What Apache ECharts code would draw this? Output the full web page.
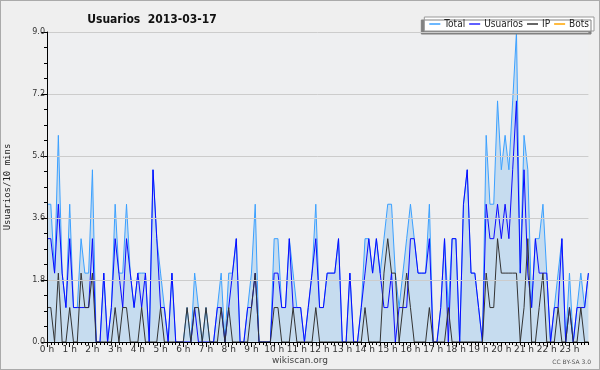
<!DOCTYPE html>
<html>
<head>
<meta charset="utf-8">
<script src="https://cdn.jsdelivr.net/npm/echarts@6/dist/echarts.min.js"></script>
<style>
html,body{margin:0;padding:0;background:#efefef;}
#c{width:598px;height:368px;border:1px solid #aaaaaa;background:#efefef;}
</style>
</head>
<body>
<div id="c"></div>
<script>
// Tick labels (one per hour, each hour = 6 ten-minute slots)
var hourLabels = ["0 h","1 h","2 h","3 h","4 h","5 h","6 h","7 h","8 h","9 h","10 h","11 h",
  "12 h","13 h","14 h","15 h","16 h","17 h","18 h","19 h","20 h","21 h","22 h","23 h"];
var yTicks = [0, 1.8, 3.6, 5.4, 7.2, 9.0];

// Series values, one per 10 minutes (144 points)
var total = [
 4,4,2,6,2,1,4,1,1,3,2,2,5,0,0,2,0,1,4,2,2,4,2,1,2,2,2,0,5,3,2,1,0,2,0,0,
 0,1,0,2,1,0,1,0,0,1,2,0,2,2,3,0,0,1,2,4,0,0,0,0,3,3,1,1,3,2,1,1,0,1,2,4,
 1,1,2,2,2,3,0,0,2,0,0,1,3,3,2,3,2,3,4,4,2,1,2,3,4,3,2,2,2,4,0,0,1,3,1,3,
 3,0,4,5,2,2,1,0,6,4,4,7,5,6,5,7,9,2,6,5,1,3,3,4,2,0,1,2,3,0,2,0,1,2,1,2
];
var usuarios = [
 3,3,2,4,2,1,3,1,1,1,1,1,3,0,0,2,0,1,3,2,1,3,2,1,2,1,2,0,5,3,1,1,0,2,0,0,
 0,0,0,1,0,0,0,0,0,1,1,0,1,2,3,0,0,1,1,2,0,0,0,0,2,2,1,1,3,1,1,1,0,1,2,3,
 1,1,2,2,2,3,0,0,2,0,0,1,2,3,2,3,2,1,1,2,0,1,1,1,3,3,2,2,2,3,0,0,1,3,0,3,
 3,0,4,5,2,2,1,0,4,3,3,4,3,4,3,5,7,2,5,2,1,3,2,2,2,0,1,1,3,0,1,0,1,1,1,2
];
var ip = [
 1,1,0,2,0,0,1,0,0,2,1,1,2,0,0,0,0,0,1,0,1,1,0,0,0,1,0,0,0,0,1,0,0,0,0,0,
 0,1,0,1,1,0,1,0,0,0,1,0,1,0,0,0,0,0,1,2,0,0,0,0,1,1,0,0,0,1,0,0,0,0,0,1,
 0,0,0,0,0,0,0,0,0,0,0,0,1,0,0,0,0,2,3,2,2,0,1,2,1,0,0,0,0,1,0,0,0,0,1,0,
 0,0,0,0,0,0,0,0,2,1,1,3,2,2,2,2,2,0,1,3,0,0,1,2,0,0,0,1,0,0,1,0,0,1,0,0
];
var bots = [
 0,0,0,0,0,0,0,0,0,0,0,0,0,0,0,0,0,0,0,0,0,0,0,0,0,0,0,0,0,0,0,0,0,0,0,0,
 0,0,0,0,0,0,0,0,0,0,0,0,0,0,0,0,0,0,0,0,0,0,0,0,0,0,0,0,0,0,0,0,0,0,0,0,
 0,0,0,0,0,0,0,0,0,0,0,0,0,0,0,0,0,0,0,0,0,0,0,0,0,0,0,0,0,0,0,0,0,0,0,0,
 0,0,0,0,0,0,0,0,0,0,0,0,0,0,0,0,0,0,0,0,0,0,0,0,0,0,0,0,0,0,0,0,0,0,0,0
];

var categories = [];
for (var h = 0; h < hourLabels.length; h++) {
  for (var m = 0; m < 6; m++) categories.push(m === 0 ? hourLabels[h] : '');
}

var chart = echarts.init(document.getElementById('c'));
var font = '"DejaVu Sans", sans-serif';
var cond = '"DejaVu Sans Condensed", "DejaVu Sans", sans-serif';
chart.setOption({
  backgroundColor: '#efefef',
  animation: false,
  title: {
    text: 'Usuarios  2013-03-17',
    left: 146, top: 8, textAlign: 'center',
    textStyle: { fontFamily: cond, fontSize: 12, fontWeight: 'bold', color: '#111' }
  },
  legend: {
    right: 5, top: 16,
    data: ['Total', 'Usuarios', 'IP', 'Bots'],
    backgroundColor: '#ffffff',
    borderColor: '#999', borderWidth: 1,
    shadowColor: '#808080', shadowOffsetX: -3, shadowOffsetY: 3, shadowBlur: 0,
    padding: [2, 5, 2, 5],
    itemGap: 4, itemWidth: 11, itemHeight: 1.5, icon: 'rect',
    textStyle: { fontFamily: cond, fontSize: 10, color: '#222', padding: [0, 0, 0, -1] }
  },
  grid: { left: 46, right: 10.6, top: 31, bottom: 27, show: true, backgroundColor: '#eeeff1', borderWidth: 0,
    outerBoundsMode: 'none', containLabel: false },
  xAxis: [
    {
      type: 'category', data: categories, boundaryGap: false, z: 10,
      axisLine: { lineStyle: { color: '#000', width: 1 } },
      axisTick: { interval: 0, length: 3, lineStyle: { color: '#000' } },
      axisLabel: { show: false },
      splitLine: { show: false }
    },
    {
      type: 'category', data: categories, boundaryGap: false, position: 'bottom', z: 10,
      axisLine: { show: false },
      axisTick: { interval: 5, length: 5, lineStyle: { color: '#000' } },
      axisLabel: { interval: 5, margin: 3, fontFamily: font, fontSize: 9, color: '#333' },
      splitLine: { show: false }
    }
  ],
  yAxis: {
    type: 'value', min: 0, max: 9, interval: 1.8, z: 10,
    name: 'Usuarios/10 mins', nameLocation: 'middle', nameGap: 35, nameRotate: 90,
    nameTextStyle: { fontFamily: '"DejaVu Sans Mono", monospace', fontSize: 9, color: '#222' },
    axisLine: { show: true, lineStyle: { color: '#000' } },
    axisTick: { show: true, length: 6, lineStyle: { color: '#000' } },
    minorTick: { show: true, splitNumber: 4, length: 3, lineStyle: { color: '#000' } },
    axisLabel: { margin: 2, fontFamily: font, fontSize: 8, color: '#333',
      formatter: function (v) { return v.toFixed(1); } },
    splitLine: { show: true, lineStyle: { color: '#cccccc', width: 1 } }
  },
  series: [
    { name: 'Total', type: 'line', data: total, symbol: 'none', z: 1,
      lineStyle: { color: '#3ba0ff', width: 1 }, itemStyle: { color: '#3ba0ff' },
      areaStyle: { color: '#c6dcef', opacity: 1 } },
    { name: 'Usuarios', type: 'line', data: usuarios, symbol: 'none', z: 2,
      lineStyle: { color: '#0a0aff', width: 1 }, itemStyle: { color: '#2a2aff' } },
    { name: 'IP', type: 'line', data: ip, symbol: 'none', z: 3,
      lineStyle: { color: '#333333', width: 1 }, itemStyle: { color: '#333333' } },
    { name: 'Bots', type: 'line', data: bots, symbol: 'none', z: 0,
      lineStyle: { color: '#ffa500', width: 1 }, itemStyle: { color: '#ffa500' } }
  ],
  graphic: [
    { type: 'text', left: 'center', top: 355,
      style: { text: 'wikiscan.org', fontFamily: font, fontSize: 9, fill: '#444' } },
    { type: 'text', right: 8, top: 358,
      style: { text: 'CC BY-SA 3.0', fontFamily: font, fontSize: 6, fill: '#555' } }
  ]
});
</script>
</body>
</html>
